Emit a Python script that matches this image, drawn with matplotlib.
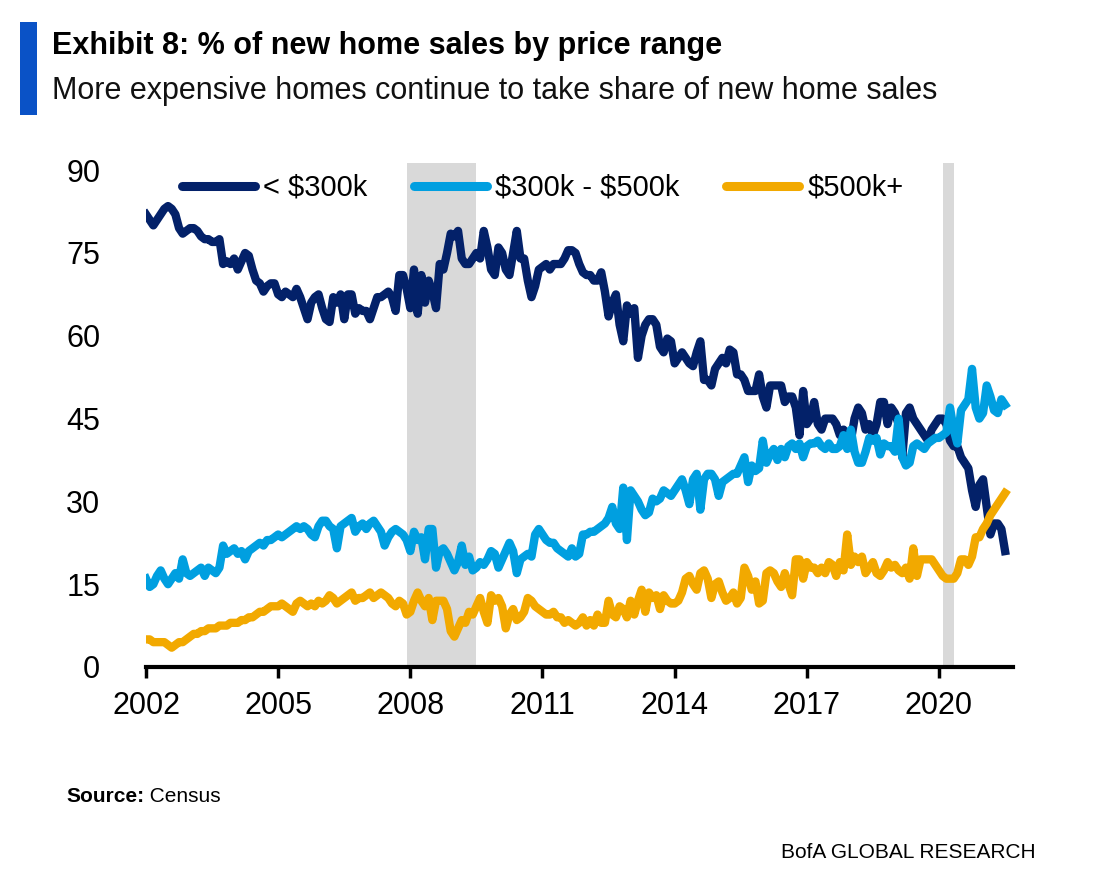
import matplotlib
matplotlib.use("Agg")
import matplotlib.pyplot as plt
from matplotlib.lines import Line2D
import numpy as np

# ---------------- data (monthly, Jan 2002 - Jul 2021) ----------------
start_year = 2002
under_300k = [
    82, 81, 80, 81, 82, 83, 83.5, 83, 82, 79.5, 78.5, 79,          # 2002
    79.5, 79.5, 79, 78, 77.5, 77.5, 77, 77, 77.5, 73, 73.5, 73,    # 2003
    74, 72, 73.5, 75, 74.5, 72, 70, 69.5, 68, 69, 69.5, 69.5,      # 2004
    67.5, 67, 68, 67.5, 67, 68.5, 67, 65, 63, 66, 67, 67.5,        # 2005
    65, 63, 62.5, 67, 66, 67.5, 63, 67.5, 67.5, 64, 65, 64.5,      # 2006
    64.5, 63, 65, 67, 67, 67.5, 68, 67, 64.5, 71, 71, 68.5,        # 2007
    65, 72, 64, 71, 66, 70, 68, 65, 73, 72, 75, 78.5,              # 2008
    78, 79, 74, 73, 73, 74, 75, 74, 79, 76, 72, 71,                # 2009
    76, 75, 72, 71, 75, 79, 74, 74, 70, 67, 69, 72,                # 2010
    72.5, 73, 72, 73, 73, 73, 74, 75.5, 75.5, 75, 73, 71.5,        # 2011
    71, 71, 70, 70, 71.5, 68, 63.5, 66, 67.5, 62, 59, 65.5,        # 2012
    64, 65, 56, 60, 62, 63, 63, 62, 58, 57, 59.5, 59,              # 2013
    55, 56, 57, 56, 55, 54.5, 57, 59, 52, 52, 51, 54,              # 2014
    55, 56, 55, 57.5, 57, 53, 53, 52, 50, 50, 50, 53,              # 2015
    49, 47, 51, 51, 51, 51, 48, 49, 49, 47, 42, 50,                # 2016
    44, 45, 48, 44, 43, 45, 45, 45, 44, 42, 43, 42,                # 2017
    41, 45, 47, 46, 43, 44, 42, 44, 48, 48, 44, 47,                # 2018
    46, 44, 38, 46, 47, 45, 44, 43, 42, 41, 43, 44,                # 2019
    45, 45, 44, 41, 40, 40, 38, 37, 36, 32, 29, 33,                # 2020
    34, 29, 24, 26, 26, 25, 21,                                    # 2021
]
from_300k_to_500k = [
    16, 14.5, 15, 16.5, 17.5, 16, 15, 16, 17, 16, 19.5, 17,
    16.5, 17, 17.5, 18, 16.5, 18, 17.5, 17, 18, 22, 20.5, 21,
    21.5, 20.5, 21, 19.5, 21, 21.5, 22, 22.5, 22, 23, 23, 23.5,
    24, 23.5, 24, 24.5, 25, 25.5, 25, 25.5, 25, 24, 23.5, 25.5,
    26.5, 26.5, 25.5, 25, 21.5, 25.5, 26, 26.5, 27, 24.5, 25.5, 26,
    25, 26, 26.5, 25.5, 24.5, 22, 23.5, 24.5, 25, 24.5, 24, 23,
    21, 24.5, 23, 23.5, 19.5, 25, 25, 18, 21, 21.5, 20.5, 19,
    17.5, 19, 22, 18.5, 20, 17.5, 18, 19, 18.5, 19.5, 21, 20.5,
    18, 19.5, 21, 22.5, 21, 17, 19.5, 20, 20.5, 20, 24, 25,
    24, 23, 22.5, 22.5, 21.5, 21, 20.5, 20, 21.5, 20, 20.5, 24,
    24, 24.5, 24.5, 25, 25.5, 26, 27, 29, 26, 25, 32.5, 23,
    32, 31, 30, 28.5, 27.5, 28, 30.5, 30, 30.5, 32, 31.5, 31,
    32, 33, 34, 32, 29.5, 34, 35, 28.5, 34, 35, 35, 34,
    31, 33.5, 34, 34.5, 35, 35, 36.5, 38, 33.5, 36.5, 35.5, 36,
    41, 37, 38.5, 39.5, 37.5, 39.5, 38, 40, 40.5, 39.5, 40.5, 38,
    40, 40.5, 40.5, 41, 40, 39.5, 40.5, 39.5, 39.5, 40, 42, 39.5,
    43, 39, 37, 37, 39, 41.5, 41, 41.5, 38.5, 40.5, 40, 40,
    39, 45, 38, 36.5, 37, 40, 40.5, 40, 39.5, 40.5, 41, 41.5,
    41.5, 42, 42.5, 47, 43, 40.5, 46.5, 47.5, 48.5, 54, 47, 45,
    46, 51, 49, 46.5, 46, 48.5, 47.5,
]
over_500k = [
    5, 5, 4.5, 4.5, 4.5, 4.5, 4, 3.5, 4, 4.5, 4.5, 5,
    5.5, 6, 6, 6.5, 6.5, 7, 7, 7, 7.5, 7.5, 7.5, 8,
    8, 8, 8.5, 8.5, 9, 9, 9.5, 10, 10, 10.5, 11, 11,
    11, 11.5, 11, 10.5, 10, 11.5, 12, 11.5, 11, 11.5, 11, 12,
    11.5, 12, 13, 12.5, 11.5, 12, 12.5, 13, 13.5, 12, 12.5, 12.5,
    13, 13.5, 12.5, 13, 13.5, 13, 12.5, 11.5, 11, 12, 11.5, 9.5,
    10, 12, 13.5, 12, 11, 12.5, 8.5, 12, 12, 12, 10.5, 6.5,
    5.5, 7, 8.5, 8, 10, 9.5, 11, 12.5, 10, 8, 13, 12,
    12.5, 11, 7, 9.5, 10.5, 8.5, 9, 10, 12.5, 12, 11, 10.5,
    10, 9.5, 9.5, 10, 9, 9, 8, 8.5, 8, 7.5, 8, 9,
    7.5, 8.5, 7.5, 9.5, 8, 8, 12, 9.5, 9, 11, 10.5, 9,
    12, 9.5, 12, 14, 10, 13.5, 12.5, 13, 10.5, 13, 12, 11.5,
    11.5, 12, 13.5, 16, 16.5, 15, 14, 17, 17.5, 16, 12.5, 15,
    15.5, 13.5, 12, 12.5, 13.5, 11.5, 12.5, 18, 16.5, 14, 15.5, 11.5,
    12, 17, 17.5, 17, 15.5, 14.5, 17, 15, 13, 19.5, 19.5, 16,
    19, 18, 18, 17, 18, 17, 19, 18.5, 16.5, 19, 17.5, 24,
    18.5, 20, 19, 20, 17, 18, 19, 17, 16.5, 17.5, 19, 18,
    18.5, 17.5, 17, 18, 16, 21.5, 16.5, 19.5, 19.5, 19.5, 19.5, 18.5,
    17.5, 16.5, 16, 16, 16, 17, 19.5, 19.5, 18.5, 20, 23.5, 23.5,
    25, 26, 27.5, 28.5, 29.5, 30.5, 31.5,
]
series_labels = ["< \\$300k", "\\$300k - \\$500k", "\\$500k+"]
series_colors = ["#032169", "#009FE0", "#F2A900"]
recession_start = [2007.917, 2020.083]
recession_end = [2009.5, 2020.333]
x_ticks = [2002, 2005, 2008, 2011, 2014, 2017, 2020]
y_ticks = [0, 15, 30, 45, 60, 75, 90]

# ---------------- figure ----------------
W, H = 1100, 883
fig = plt.figure(figsize=(W / 100, H / 100), dpi=100)
arial = ["Liberation Sans", "DejaVu Sans"]

ax = fig.add_axes([146 / W, 1 - 667 / H, 867 / W, 504 / H])
n = len(under_300k)
x = start_year + np.arange(n) / 12.0

for s, e in zip(recession_start, recession_end):
    ax.axvspan(s, e, color="#D9D9D9", lw=0, zorder=0)

for vals, lab, col in zip([under_300k, from_300k_to_500k, over_500k],
                          series_labels, series_colors):
    ax.plot(x[:len(vals)], vals, color=col, lw=6.0, label=lab, zorder=2,
            solid_joinstyle="round")

ax.set_xlim(2002.0, 2021.68)
ax.set_ylim(0, 91.3)
ax.set_xticks(x_ticks)
ax.set_xticklabels([str(t) for t in x_ticks])
ax.set_yticks(y_ticks)
ax.set_yticklabels([str(t) for t in y_ticks])
for sp in ["top", "right", "left"]:
    ax.spines[sp].set_visible(False)
ax.spines["bottom"].set_linewidth(3.0)
ax.spines["bottom"].set_color("black")
ax.tick_params(axis="x", direction="out", length=8, width=2.5, pad=9,
               labelsize=22, colors="black")
ax.tick_params(axis="y", length=0, pad=33, labelsize=22)
for lbl in ax.get_xticklabels() + ax.get_yticklabels():
    lbl.set_fontfamily(arial)

handles = [Line2D([0], [0], color=c, lw=6.5, solid_capstyle="round")
           for c in series_colors]
leg = fig.legend(handles, series_labels, loc="center left",
                 bbox_to_anchor=(182 / W, 1 - 188 / H),
                 bbox_transform=fig.transFigure, ncol=3, frameon=False,
                 handlelength=2.5, handletextpad=0.28, columnspacing=1.6,
                 prop={"family": arial, "size": 21}, borderpad=0,
                 borderaxespad=0)

# ---------------- titles & notes ----------------
fig.patches.append(plt.Rectangle((20 / W, 1 - 115 / H), 17 / W, 93 / H,
                                 transform=fig.transFigure,
                                 color="#0A52C6", lw=0))
fig.text(52 / W, 1 - 46 / H, "Exhibit 8: % of new home sales by price range",
         fontsize=22, fontweight="bold", family=arial, va="center",
         ha="left")
fig.text(52 / W, 1 - 91 / H,
         "More expensive homes continue to take share of new home sales",
         fontsize=22, family=arial, va="center", ha="left", color="#111111")
src = fig.text(66 / W, 1 - 797 / H, "Source:", fontsize=15,
               fontweight="bold", family=arial, va="center", ha="left")
ax.annotate(" Census", xy=(1, 0.5), xycoords=src, va="center", ha="left",
            fontsize=15, family=arial, annotation_clip=False)
fig.text(1036 / W, 1 - 852 / H, "BofA GLOBAL RESEARCH", fontsize=15,
         family=arial, va="center", ha="right")

fig.savefig("out.png", dpi=100)
